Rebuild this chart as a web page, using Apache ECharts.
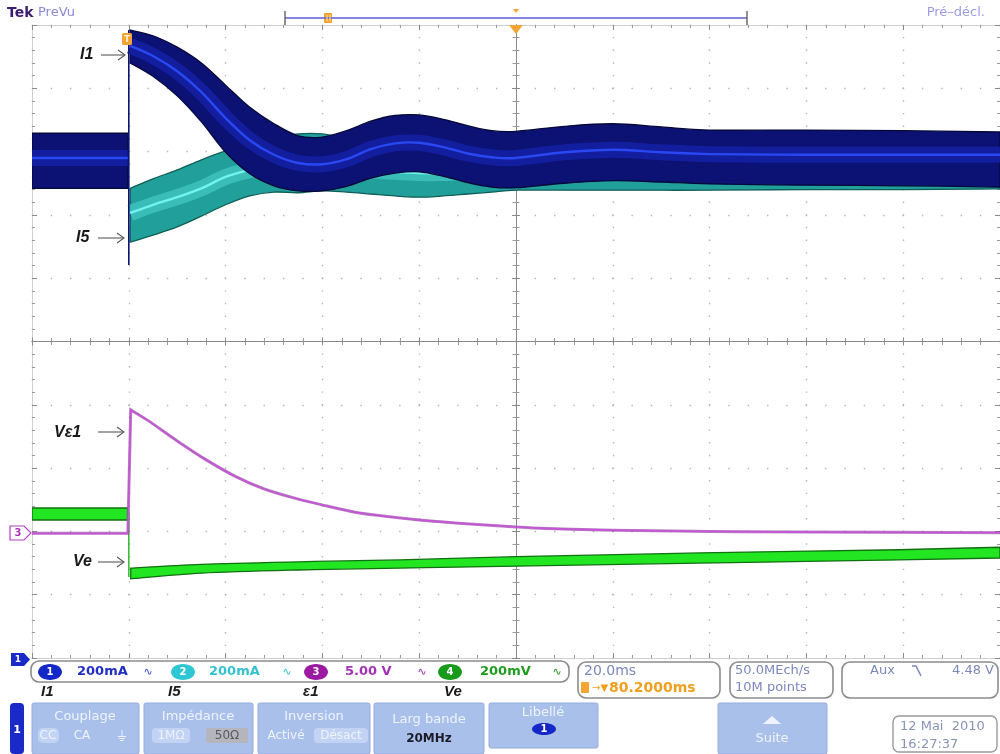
<!DOCTYPE html>
<html><head><meta charset="utf-8">
<script src="https://cdn.jsdelivr.net/npm/echarts@6/dist/echarts.min.js"></script>
<style>html,body{margin:0;padding:0;background:#fff}#c{width:1000px;height:754px}</style>
</head><body><div id="c"></div>
<script>
// ---- data (time in ms, 20 ms/div; vertical in divisions) ----
const ch1Time   = [-20, -0.2, 0.3, 5, 10, 15, 20, 25, 30, 35, 40, 45, 50, 55, 60, 65, 70, 75, 80, 90, 100, 110, 120, 140, 160, 180];
const ch1Top    = [3.29, 3.29, 4.92, 4.83, 4.65, 4.40, 4.05, 3.70, 3.44, 3.25, 3.23, 3.33, 3.48, 3.57, 3.58, 3.51, 3.41, 3.33, 3.32, 3.40, 3.44, 3.39, 3.34, 3.34, 3.33, 3.31];
const ch1Bottom = [2.42, 2.42, 4.40, 4.19, 3.88, 3.47, 2.99, 2.65, 2.46, 2.38, 2.38, 2.45, 2.58, 2.66, 2.68, 2.61, 2.51, 2.44, 2.43, 2.50, 2.54, 2.52, 2.49, 2.47, 2.46, 2.44];
const ch1Center = [2.90, 2.90, 4.67, 4.51, 4.27, 3.94, 3.53, 3.18, 2.95, 2.82, 2.80, 2.88, 3.04, 3.13, 3.14, 3.07, 2.97, 2.91, 2.90, 2.99, 3.03, 2.99, 2.96, 2.95, 2.95, 2.95];

const ch2Time   = [-20, -0.2, 0.3, 5, 10, 15, 20, 25, 30, 35, 40, 45, 50, 55, 60, 65, 70, 75, 80, 90, 100, 110, 120, 140, 160, 180];
const ch2Top    = [3.03, 3.03, 2.42, 2.57, 2.71, 2.87, 3.01, 3.12, 3.21, 3.28, 3.28, 3.20, 3.10, 3.06, 3.04, 3.04, 3.03, 3.03, 3.03, 3.03, 3.06, 3.04, 3.03, 3.03, 3.01, 2.99];
const ch2Bottom = [2.46, 2.46, 1.57, 1.68, 1.81, 1.98, 2.16, 2.30, 2.36, 2.35, 2.38, 2.36, 2.33, 2.30, 2.28, 2.30, 2.33, 2.36, 2.39, 2.39, 2.39, 2.39, 2.39, 2.40, 2.40, 2.41];
const ch2Center = [2.71, 2.71, 2.03, 2.16, 2.28, 2.42, 2.60, 2.71, 2.79, 2.82, 2.82, 2.79, 2.71, 2.68, 2.66, 2.66, 2.68, 2.69, 2.71, 2.71, 2.72, 2.71, 2.71, 2.71, 2.70, 2.70];

const ch3Time  = [-20, -0.2, 0.4, 4, 10, 16, 22, 28, 35, 41, 47, 54, 60, 68, 76, 85, 100, 120, 140, 180];
const ch3Value = [-3.03, -3.03, -1.08, -1.25, -1.57, -1.87, -2.13, -2.33, -2.49, -2.60, -2.70, -2.77, -2.82, -2.87, -2.91, -2.95, -2.98, -3.00, -3.01, -3.02];

const ch4Time   = [-20, -0.2, 0.4, 15, 35, 56, 80, 118, 159, 180];
const ch4Top    = [-2.63, -2.63, -3.58, -3.52, -3.48, -3.45, -3.40, -3.34, -3.29, -3.25];
const ch4Bottom = [-2.82, -2.82, -3.75, -3.66, -3.61, -3.58, -3.55, -3.50, -3.45, -3.42];

const ch1SpikeTime = [0, 0];   const ch1SpikeValue = [4.92, 1.21];
const ch4SpikeTime = [0, 0];   const ch4SpikeValue = [-2.70, -3.72];

const timeMin = -20, timeMax = 180, timeDiv = 20;
const divMin = -5, divMax = 5;

// ---- chart ----
const FF = '"DejaVu Sans", sans-serif';
const chart = echarts.init(document.getElementById('c'), null, {renderer: 'canvas'});

// Catmull-Rom through mapped points -> cubic bezier path segments
function curve(pts) {
  let d = '';
  for (let i = 0; i < pts.length - 1; i++) {
    const p0 = pts[Math.max(i - 1, 0)], p1 = pts[i], p2 = pts[i + 1], p3 = pts[Math.min(i + 2, pts.length - 1)];
    const k = 1 / 6;
    d += ' C' + (p1[0] + (p2[0] - p0[0]) * k) + ',' + (p1[1] + (p2[1] - p0[1]) * k) + ' ' +
      (p2[0] - (p3[0] - p1[0]) * k) + ',' + (p2[1] - (p3[1] - p1[1]) * k) + ' ' + p2[0] + ',' + p2[1];
  }
  return d;
}
const M = p => 'M' + p[0] + ',' + p[1];
const L = p => ' L' + p[0] + ',' + p[1];

function bandRender(t, top, bot, ctr, sty) {
  return function (params, api) {
    if (params.dataIndex !== 0) return null;
    const parts = [[], []];
    t.forEach((x, i) => parts[x < 0 ? 0 : 1].push(i));
    const children = [];
    parts.forEach(idx => {
      const up = idx.map(i => api.coord([t[i], top[i]]));
      const dn = idx.map(i => api.coord([t[i], bot[i]])).reverse();
      const d = M(up[0]) + curve(up) + L(dn[0]) + curve(dn) + ' Z';
      children.push({type: 'path', shape: {pathData: d}, style: {fill: sty.fill, stroke: sty.edge, lineWidth: 1.3}});
      if (ctr) {
        const c = idx.map(i => api.coord([t[i], ctr[i]]));
        const dc = M(c[0]) + curve(c);
        children.push({type: 'path', shape: {pathData: dc}, style: {stroke: sty.glow, lineWidth: sty.glowW, fill: null, opacity: 0.85}});
        children.push({type: 'path', shape: {pathData: dc}, style: {stroke: sty.core, lineWidth: 2.4, fill: null}});
      }
    });
    return {type: 'group', children};
  };
}
function traceRender(t, v, color) {
  return function (params, api) {
    if (params.dataIndex !== 0) return null;
    const pre = [], post = [];
    t.forEach((x, i) => (x < 0 ? pre : post).push(api.coord([x, v[i]])));
    let d = M(pre[0]);
    pre.slice(1).forEach(p => { d += L(p); });
    d += L(post[0]) + curve(post);
    return {type: 'group', children: [
      {type: 'path', shape: {pathData: d}, style: {stroke: '#7a2888', lineWidth: 3, fill: null, opacity: 0.55}},
      {type: 'path', shape: {pathData: d}, style: {stroke: color, lineWidth: 1.8, fill: null}}
    ]};
  };
}
const pairs = (a, b) => a.map((x, i) => [x, b[i]]);

function xAx(pos, offset, inside, split) {
  return {type: 'value', min: timeMin, max: timeMax, interval: timeDiv, position: pos, offset,
    axisLine: {show: true, onZero: false, lineStyle: {color: offset ? '#8a8a8a' : '#cfcfcf', width: 1}},
    axisTick: {show: true, inside, length: offset ? 4 : 5, lineStyle: {color: '#8a8a8a'}},
    minorTick: {show: true, splitNumber: 5, length: offset ? 3.5 : 3, lineStyle: {color: '#9a9a9a'}},
    axisLabel: {show: false},
    splitLine: {show: split, lineStyle: {color: '#b4b4b4', width: 1.4, type: [1.4, 11.26], dashOffset: 0.7}}};
}
function yAx(pos, offset, inside, split) {
  return {type: 'value', min: divMin, max: divMax, interval: 1, position: pos, offset,
    axisLine: {show: true, onZero: false, lineStyle: {color: offset ? '#8a8a8a' : '#cfcfcf', width: 1}},
    axisTick: {show: true, inside, length: offset ? 4 : 5, lineStyle: {color: '#8a8a8a'}},
    minorTick: {show: true, splitNumber: 5, length: offset ? 3.5 : 3, lineStyle: {color: '#9a9a9a'}},
    axisLabel: {show: false},
    splitLine: {show: split, lineStyle: {color: '#b4b4b4', width: 1.4, type: [1.4, 17.96], dashOffset: 0.7}}};
}

// ---- UI graphics ----
const G = [];
const txt = (x, y, text, font, fill, align, extra) => G.push(Object.assign({type: 'text', x, y, z: 100,
  style: {text, font, fill, align: align || 'left', verticalAlign: 'middle'}}, extra || {}));
const rect = (x, y, w, h, r, fill, stroke, lw) => G.push({type: 'rect', z: 90,
  shape: {x, y, width: w, height: h, r}, style: {fill, stroke: stroke || null, lineWidth: lw || 1}});
const ell = (cx, cy, rx, ry, fill) => G.push({type: 'ellipse', z: 95, shape: {cx, cy, rx, ry}, style: {fill}});
const poly = (pts, fill, stroke, lw) => G.push({type: 'polygon', z: 95, shape: {points: pts}, style: {fill, stroke: stroke || null, lineWidth: lw || 1}});
const pline = (pts, stroke, lw) => G.push({type: 'polyline', z: 95, shape: {points: pts}, style: {stroke, lineWidth: lw || 1, fill: null}});
const arrow = (x1, x2, y) => { pline([[x1, y], [x2, y]], '#5a5a5a', 1.1); pline([[x2 - 7, y - 5], [x2, y], [x2 - 7, y + 5]], '#5a5a5a', 1.1); };

// header
txt(7, 13, 'Tek', 'bold 14px ' + FF, '#3a1d70');
txt(38, 13, 'PreVu', '13px ' + FF, '#8c88d8');
txt(985, 13, 'Pré–décl.', '13px ' + FF, '#9c9ce0', 'right');
pline([[285, 18], [747, 18]], '#5e5ed2', 1.5);
pline([[285, 11], [285, 25]], '#555', 1.3);
pline([[747, 11], [747, 25]], '#555', 1.3);
rect(324, 13, 8, 10, 1, '#f2a534');
pline([[327, 15], [327, 21]], '#ffe9b0', 1); pline([[330, 15], [330, 21]], '#ffe9b0', 1);
poly([[513, 9], [519, 9], [516, 13]], '#f2a534');
poly([[509, 25], [523, 25], [516, 34]], '#f2a534');
// trigger level marker
rect(122, 33, 10, 12, 1.5, '#f2a534');
txt(127, 39.5, 'T', 'bold 9px ' + FF, '#fff3d0', 'center');

// trace labels
const LF = 'italic bold 16px "Liberation Sans", sans-serif';
txt(80, 55, 'I1', LF, '#1a1a1a'); arrow(101, 125, 55);
txt(76, 238, 'I5', LF, '#1a1a1a'); arrow(98, 124, 238);
txt(54, 433, 'Vε1', LF, '#1a1a1a'); arrow(98, 124, 432);
txt(73, 562, 'Ve', LF, '#1a1a1a'); arrow(98, 124, 562);

// ground markers
poly([[10, 526], [24, 526], [31, 533], [24, 540], [10, 540]], '#fff', '#b040c0', 1.2);
txt(18, 533.5, '3', 'bold 10px ' + FF, '#a838b8', 'center');
poly([[11, 653], [24, 653], [30, 659.5], [24, 666], [11, 666]], '#1a2ac8');
txt(18, 659.5, '1', 'bold 9px ' + FF, '#fff', 'center');

// channel readouts
rect(31, 661, 538, 21, 8, '#fff', '#8c8c8c', 1.6);
const RF = 'bold 13px ' + FF;
ell(50, 672, 12, 8, '#1428c8'); txt(50, 672, '1', 'bold 10px ' + FF, '#fff', 'center');
txt(77, 672, '200mA', RF, '#1f2fc4');
txt(148, 672, '∿', '11px ' + FF, '#4050d0', 'center');
ell(183, 672, 12, 8, '#2ec6d2'); txt(183, 672, '2', 'bold 10px ' + FF, '#fff', 'center');
txt(209, 672, '200mA', RF, '#34c2d0');
txt(287, 672, '∿', '11px ' + FF, '#34c2d0', 'center');
ell(316, 672, 12, 8, '#9a1aa2'); txt(316, 672, '3', 'bold 10px ' + FF, '#fff', 'center');
txt(345, 672, '5.00 V', RF, '#a232b4');
txt(422, 672, '∿', '11px ' + FF, '#a232b4', 'center');
ell(450, 672, 12, 8, '#1a9a1a'); txt(450, 672, '4', 'bold 10px ' + FF, '#fff', 'center');
txt(480, 672, '200mV', RF, '#1f9c1f');
txt(557, 672, '∿', '11px ' + FF, '#1f9c1f', 'center');
const BL = 'italic bold 15px "Liberation Sans", sans-serif';
txt(41, 692, 'I1', BL, '#1a1a1a');
txt(168, 692, 'I5', BL, '#1a1a1a');
txt(303, 692, 'ε1', BL, '#1a1a1a');
txt(444, 692, 'Ve', BL, '#1a1a1a');

rect(578, 662, 142, 36, 8, '#fff', '#8c8c8c', 1.6);
txt(584, 671, '20.0ms', '14px ' + FF, '#7c88bc');
rect(581, 682, 8, 11, 1, '#f2a534');
txt(592, 688, '→▼', '10px ' + FF, '#f0a020');
txt(609, 688, '80.2000ms', 'bold 14px ' + FF, '#f0a020');
rect(730, 662, 103, 36, 8, '#fff', '#8c8c8c', 1.6);
txt(735, 671, '50.0MEch/s', '13px ' + FF, '#7c88bc');
txt(735, 688, '10M points', '13px ' + FF, '#7c88bc');
rect(842, 662, 156, 36, 8, '#fff', '#8c8c8c', 1.6);
txt(870, 671, 'Aux', '13px ' + FF, '#7c88bc');
pline([[912, 666], [916, 666], [921, 676]], '#7c88bc', 1.5);
txt(994, 671, '4.48 V', '13px ' + FF, '#7c88bc', 'right');

// menu buttons
rect(10, 703, 14, 51, 4, '#1a2ac8');
txt(17, 730, '1', 'bold 11px ' + FF, '#fff', 'center');
const BF = '13px ' + FF, BT = '#eef3ff', BC = '#a9c0ea', BS = '#94ace0', SB = '#c3d3f3';
function btn(x, w, h) { rect(x, 703, w, h || 51, 2, BC, BS, 1); }
btn(32, 107); txt(85, 717, 'Couplage', BF, BT, 'center');
rect(38, 728, 21, 15, 5, SB); txt(48, 736, 'CC', '12px ' + FF, BT, 'center');
txt(82, 736, 'CA', '12px ' + FF, BT, 'center');
txt(122, 737, '⏚', '14px ' + FF, BT, 'center');
btn(144, 109); txt(198, 717, 'Impédance', BF, BT, 'center');
rect(152, 728, 38, 15, 4, SB); txt(171, 736, '1MΩ', '12px ' + FF, BT, 'center');
rect(206, 728, 42, 15, 2, '#b4b6bc'); txt(227, 736, '50Ω', '12px ' + FF, '#5a5a62', 'center');
btn(258, 112); txt(314, 717, 'Inversion', BF, BT, 'center');
txt(286, 736, 'Activé', '12px ' + FF, BT, 'center');
rect(314, 728, 54, 15, 4, SB); txt(341, 736, 'Désact', '12px ' + FF, BT, 'center');
btn(374, 110); txt(429, 720, 'Larg bande', BF, BT, 'center');
txt(429, 739, '20MHz', 'bold 12px ' + FF, '#1c1c28', 'center');
btn(489, 109, 45); txt(543, 713, 'Libellé', BF, BT, 'center');
ell(544, 729, 12, 6, '#1428c8'); txt(544, 729, '1', 'bold 10px ' + FF, '#fff', 'center');
btn(718, 109); poly([[763, 724], [772, 716], [781, 724]], BT);
txt(772, 739, 'Suite', BF, BT, 'center');
rect(893, 716, 104, 36, 6, '#fff', '#9a9a9a', 1.4);
txt(900, 727, '12 Mai  2010', '13px ' + FF, '#8894b8');
txt(900, 745, '16:27:37', '13px ' + FF, '#8894b8');

const option = {
  animation: false,
  backgroundColor: '#ffffff',
  grid: {left: 32, right: 0, top: 25, bottom: 96, containLabel: false},
  xAxis: [xAx('bottom', 0, true, true), xAx('top', 0, true, false), xAx('bottom', -316.5, false, false), xAx('top', -316.5, false, false)],
  yAxis: [yAx('left', 0, true, true), yAx('right', 0, true, false), yAx('left', -484, false, false), yAx('right', -484, false, false)],
  series: [
    {type: 'custom', name: 'I5', clip: true, data: [[0, 0]], z: 3,
     renderItem: bandRender(ch2Time, ch2Top, ch2Bottom, ch2Center,
       {fill: '#219f9b', edge: '#0f5e58', glow: '#3ec2be', glowW: 16, core: '#74f2ee'})},
    {type: 'custom', name: 'I1', clip: true, data: [[0, 0]], z: 4,
     renderItem: bandRender(ch1Time, ch1Top, ch1Bottom, ch1Center,
       {fill: '#0b1274', edge: '#050838', glow: '#1421a6', glowW: 16, core: '#2a48f2'})},
    {type: 'line', name: 'I1 edge', data: pairs(ch1SpikeTime, ch1SpikeValue), symbol: 'none', z: 4,
     lineStyle: {color: '#0b1274', width: 1.6}},
    {type: 'custom', name: 'Ve', clip: true, data: [[0, 0]], z: 3,
     renderItem: bandRender(ch4Time, ch4Top, ch4Bottom, null, {fill: '#22e622', edge: '#127012'})},
    {type: 'line', name: 'Ve edge', data: pairs(ch4SpikeTime, ch4SpikeValue), symbol: 'none', z: 3,
     lineStyle: {color: '#1fb81f', width: 1.4}},
    {type: 'custom', name: 'ε1', clip: true, data: [[0, 0]], z: 5,
     renderItem: traceRender(ch3Time, ch3Value, '#c455d4')}
  ],
  graphic: G
};
chart.setOption(option);
</script>
</body></html>
